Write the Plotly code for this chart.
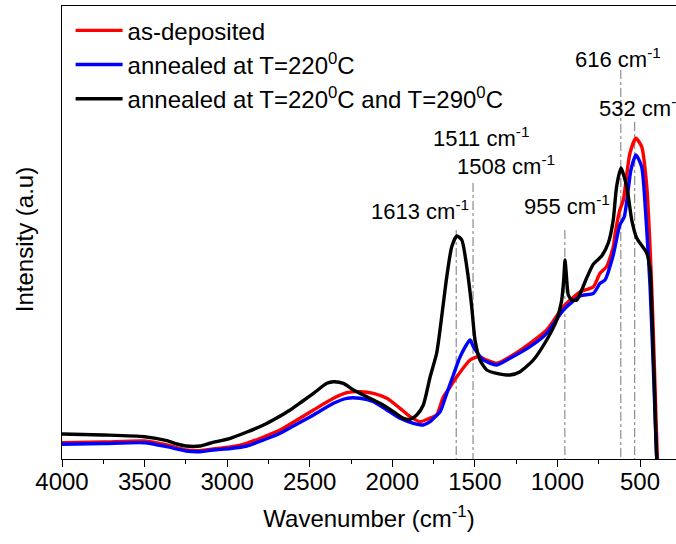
import plotly.graph_objects as go

# ---- data (wavenumber cm^-1, intensity a.u.) ----
black_wn = [4000, 3750, 3500, 3365, 3304, 3250, 3163, 3100, 2981, 2880, 2780, 2700, 2618, 2550,
            2477, 2396, 2356, 2296, 2235, 2154, 2074, 1993, 1933, 1892, 1852, 1812, 1771, 1731,
            1711, 1670, 1640, 1609, 1579, 1549, 1519, 1499, 1469, 1428, 1368, 1287, 1226, 1146,
            1065, 1004, 984, 974, 962, 954, 946, 934, 913, 883, 853, 823, 782, 732, 692, 662,
            642, 615, 580, 550, 520, 459, 439, 429, 413, 399, 390]
black_int = [25, 24, 22.3, 18.3, 15, 13, 13, 16, 20.7, 27, 34, 41, 49, 57,
             65.7, 75.7, 77.3, 75.7, 69, 62.3, 55.7, 47.3, 40.7, 39.7, 44, 54, 82, 106,
             129, 182.3, 212.3, 223, 219, 192.3, 152.3, 119, 99, 89, 85.7, 84, 87.3, 99,
             119, 139, 151, 159, 179, 199, 184, 164, 159, 159, 169, 181, 195, 203, 216, 239,
             272, 291, 272, 239, 221, 206, 189, 152, 72, 2, -15]

red_wn = [4000, 3750, 3500, 3365, 3250, 3163, 3084, 2981, 2881, 2780, 2679, 2577, 2477, 2356,
          2275, 2195, 2114, 2033, 1953, 1892, 1832, 1771, 1731, 1691, 1650, 1609, 1529, 1479,
          1428, 1368, 1287, 1166, 1065, 964, 863, 782, 742, 702, 662, 652, 622, 601, 561, 525,
          490, 459, 429, 409, 395, 388]
red_int = [16.3, 17, 18, 14, 9, 8.3, 10, 12, 15.7, 22, 29, 39, 49, 60.7,
           66.3, 67.3, 65.7, 60.7, 50.7, 42.3, 37.3, 41, 44, 62, 72, 82.3, 99, 102.3,
           99, 95.7, 102.3, 115.7, 129, 152.3, 167, 172.3, 185.7, 192.3, 212, 224, 249, 259, 305.7, 320.7,
           312.3, 272.3, 172.3, 72.3, 2.3, -15]

blue_wn = [4000, 3750, 3500, 3365, 3250, 3163, 3084, 2981, 2881, 2780, 2679, 2577, 2477, 2356,
           2275, 2195, 2114, 2033, 1953, 1872, 1812, 1771, 1751, 1710, 1670, 1630, 1589, 1529,
           1509, 1449, 1368, 1287, 1166, 1065, 964, 863, 782, 742, 712, 662, 622, 595, 555, 525,
           490, 463, 439, 415, 399, 388]
blue_int = [14.7, 15.5, 16.3, 12.3, 8, 7.3, 9, 10.5, 13, 19, 25.7, 35, 44, 55.7,
            60.7, 60.7, 57.3, 49, 40.7, 35.7, 34, 37.3, 40.5, 47.3, 65.7, 84, 102.3, 119,
            112.3, 99, 94, 100.7, 112.3, 125.7, 149, 163, 165.7, 175.7, 179, 204, 234, 242.3, 289, 304,
            292.3, 239, 172.3, 72.3, 2.3, -15]

series_names = ["as-deposited", "annealed at T=220<sup>0</sup>C",
                "annealed at T=220<sup>0</sup>C and T=290<sup>0</sup>C"]
series_colors = ["#ff0000", "#0000ff", "#000000"]

# peak marker lines: wavenumber, top of line (intensity)
peak_wn = [1613, 1511, 955, 616, 532]
peak_top = [229, 276, 229, 389, 337]

# peak labels: text, left-edge wavenumber, intensity
label_text = ["616 cm<sup>-1</sup>", "532 cm<sup>-1</sup>", "1511 cm<sup>-1</sup>",
              "1508 cm<sup>-1</sup>", "1613 cm<sup>-1</sup>", "955 cm<sup>-1</sup>"]
label_wn = [905, 760, 1765, 1620, 2140, 1214]
label_int = [401, 352, 322, 294, 249, 254]

x_ticks = [4000, 3500, 3000, 2500, 2000, 1500, 1000, 500]

FONT = "Arial, Liberation Sans, sans-serif"

fig = go.Figure()

for wn, top in zip(peak_wn, peak_top):
    fig.add_trace(go.Scatter(x=[wn, wn], y=[top, -5], mode="lines",
                             line=dict(color="#777777", width=1, dash="dashdot"),
                             showlegend=False, hoverinfo="skip"))

for i, (xs, ys) in enumerate([(red_wn, red_int), (blue_wn, blue_int), (black_wn, black_int)]):
    fig.add_trace(go.Scatter(x=xs, y=ys, mode="lines", name=series_names[i],
                             legendgroup=str(i),
                             line=dict(color=series_colors[i], width=3.4, shape="spline", smoothing=0.6)))

for t, xv, yv in zip(label_text, label_wn, label_int):
    fig.add_annotation(x=xv, y=yv, text=t, showarrow=False, xanchor="left", yanchor="middle",
                       font=dict(family=FONT, size=22, color="#000000"))

# y-axis title as rotated text
fig.add_annotation(xref="paper", yref="paper", x=-0.062, y=0.485, text="Intensity (a.u)",
                   textangle=-90, showarrow=False, xanchor="center", yanchor="middle",
                   font=dict(family=FONT, size=24, color="#000000"))

fig.update_layout(
    width=676, height=544,
    margin=dict(l=62, r=0, t=6, b=85),
    paper_bgcolor="white", plot_bgcolor="white",
    font=dict(family=FONT, size=24, color="#000000"),
    showlegend=True,
    legend=dict(x=0.014, y=0.995, xanchor="left", yanchor="top", bgcolor="rgba(0,0,0,0)",
                font=dict(family=FONT, size=24), tracegroupgap=5, traceorder="normal",
                itemwidth=47),
    xaxis=dict(range=[4000, 282], tickvals=x_ticks, ticks="outside", ticklen=7, tickwidth=1.3,
               tickcolor="#000", showline=True, linecolor="#000", linewidth=1.3, mirror=True,
               showgrid=False, zeroline=False, ticklabelstandoff=-6,
               minor=dict(dtick=250, ticks="outside", ticklen=4, tickwidth=1.3, tickcolor="#000", showgrid=False),
               tickfont=dict(size=24),
               title=dict(text="Wavenumber (cm<sup>-1</sup>)", font=dict(size=24), standoff=16)),
    yaxis=dict(range=[0, 453], showticklabels=False, ticks="", showline=True, linecolor="#000",
               linewidth=1.3, showgrid=False, zeroline=False),
)

fig.write_html("out.html", config={"displayModeBar": False},
               post_script="document.body.style.margin='0px';")
